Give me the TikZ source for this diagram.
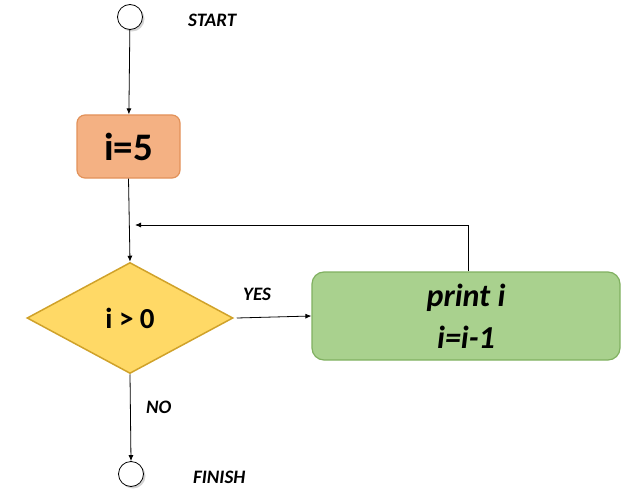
\documentclass[tikz,border=0pt]{standalone}
\usepackage{fontspec}
\setmainfont{Carlito}
\usetikzlibrary{shapes.geometric,arrows.meta,shadows}
\definecolor{orfill}{HTML}{F4B183}
\definecolor{ordraw}{HTML}{E2925A}
\definecolor{yefill}{HTML}{FFD966}
\definecolor{yedraw}{HTML}{D0A22A}
\definecolor{grfill}{HTML}{A9D18E}
\definecolor{grdraw}{HTML}{80B060}
\tikzset{
  term/.style={circle,draw=black,fill=white,line width=0.8pt,minimum size=25pt,inner sep=0pt,
    drop shadow={shadow xshift=2pt,shadow yshift=-2pt,opacity=0.35}},
  lbl/.style={font=\bfseries\itshape\fontsize{19}{21}\selectfont,anchor=west,inner sep=0pt},
  arr/.style={line width=0.8pt,-{Latex[length=6pt,width=5pt]}},
  initbox/.style={rectangle,rounded corners=8pt,draw=ordraw,fill=orfill,line width=1.2pt,
    minimum width=103pt,minimum height=63pt,font=\bfseries\fontsize{39}{40}\selectfont},
  condbox/.style={diamond,draw=yedraw,fill=yefill,line width=1.5pt,inner sep=0pt,
    minimum width=206pt,minimum height=111pt,font=\bfseries\fontsize{29}{32}\selectfont},
  bodybox/.style={rectangle,rounded corners=12pt,draw=grdraw,fill=grfill,line width=1.2pt,
    minimum width=308pt,minimum height=88pt,align=center,
    font=\bfseries\itshape\fontsize{32}{42}\selectfont},
}
\begin{document}
\begin{tikzpicture}[x=1pt,y=-1pt]
\useasboundingbox (0,0) rectangle (626,492);
\node[term] (start) at (130,17) {};
\node[lbl] (startlbl) at (188,20) {START};
\node[initbox] (init) at (128.5,146.5) {i=5};
\node[condbox] (cond) at (130,318) {i > 0};
\node[bodybox] (body) at (466,316) {print i\\i=i-1};
\node[term] (finish) at (131,474) {};
\node[lbl] (finishlbl) at (193,477) {FINISH};
\node[lbl] (yes) at (243,294) {YES};
\node[lbl] (no) at (146,407) {NO};
\coordinate (loopend) at (135,225);
\draw[arr] (start) -- (init);
\draw[arr] (init.south) -- (cond.north);
\draw[arr] ([xshift=3pt]cond.east) -- (body.west);
\draw[arr] ([xshift=2pt]body.north) |- (loopend);
\draw[arr] (cond.south) -- (finish.north);
\end{tikzpicture}
\end{document}
